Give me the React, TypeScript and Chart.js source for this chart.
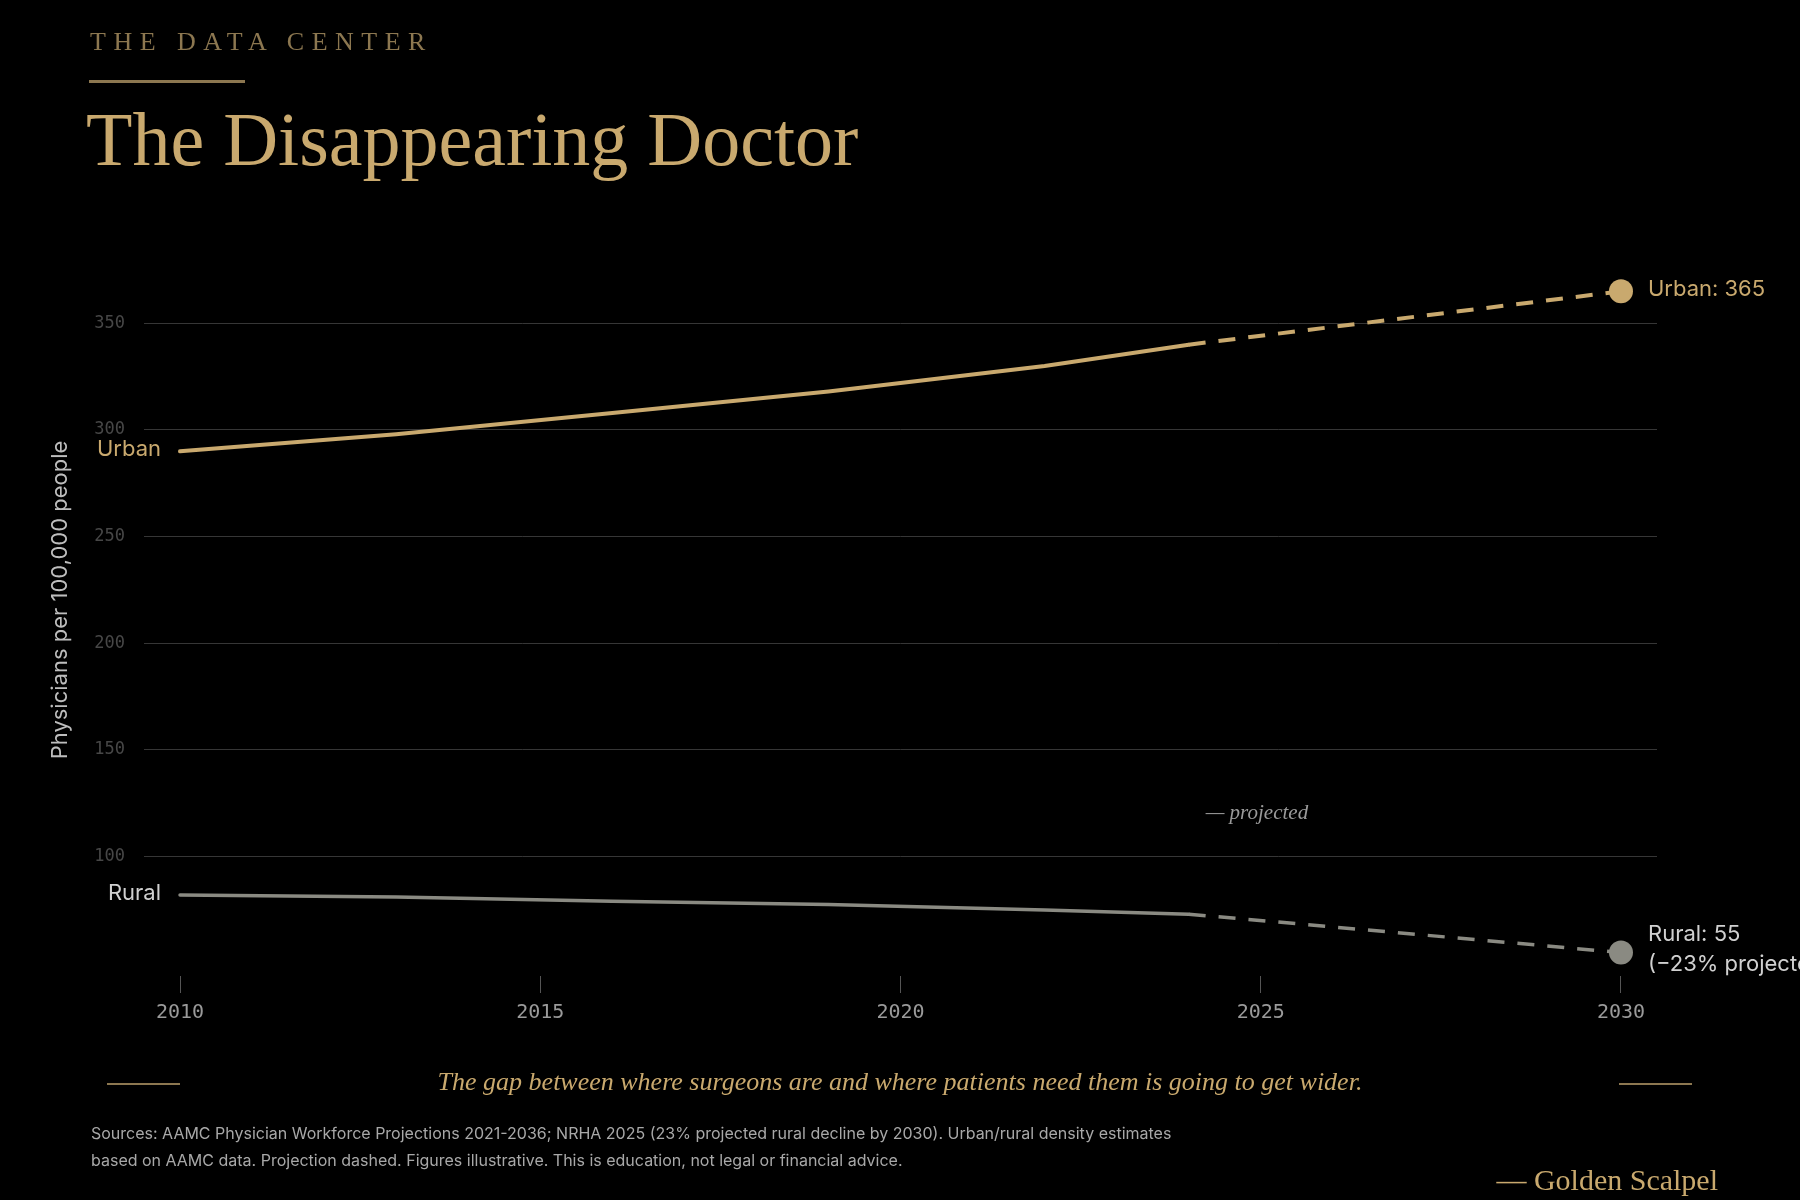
import React, { useEffect, useRef } from "react";
import { Chart, registerables } from "chart.js";

Chart.register(...registerables);

const YEARS = [2010, 2013, 2016, 2019, 2022, 2024, 2030];
const URBAN = [290, 298, 308, 318, 330, 340, 365];
const RURAL = [82, 81, 79, 77.5, 75, 73, 55];
const PROJECTION_START = 2024;
const Y_TICKS = [100, 150, 200, 250, 300, 350];
const X_TICKS = [2010, 2015, 2020, 2025, 2030];

const GOLD = "#c9a96e";
const GOLD_DIM = "#8c7750";
const GRAY = "#8a8a82";
const SANS = "Inter, 'Noto Sans', sans-serif";
const SERIF = "'Liberation Serif', 'DejaVu Serif', serif";
const MONO = "'DejaVu Sans Mono', 'Liberation Mono', monospace";

const labelPlugin = {
  id: "lineLabels",
  afterDatasetsDraw(chart: any) {
    const { ctx, scales } = chart;
    const x = scales.x;
    const y = scales.y;
    const last = YEARS.length - 1;
    ctx.save();
    ctx.textBaseline = "middle";
    ctx.font = `22px ${SANS}`;
    // start labels
    ctx.textAlign = "right";
    ctx.fillStyle = GOLD;
    ctx.fillText("Urban", x.getPixelForValue(YEARS[0]) - 19, y.getPixelForValue(URBAN[0]) - 2);
    ctx.fillStyle = "#d0d0d0";
    ctx.fillText("Rural", x.getPixelForValue(YEARS[0]) - 19, y.getPixelForValue(RURAL[0]) - 2);
    // end labels
    ctx.textAlign = "left";
    const ex = x.getPixelForValue(YEARS[last]) + 27;
    ctx.fillStyle = GOLD;
    ctx.fillText(`Urban: ${URBAN[last]}`, ex, y.getPixelForValue(URBAN[last]) - 2);
    ctx.fillStyle = "#d0d0d0";
    ctx.fillText(`Rural: ${RURAL[last]}`, ex, y.getPixelForValue(RURAL[last]) - 18);
    ctx.fillText("(\u221223% projected)", ex, y.getPixelForValue(RURAL[last]) + 12);
    // projected note
    ctx.font = `italic 21px ${SERIF}`;
    ctx.fillStyle = "#9a9a9a";
    ctx.fillText("\u2014 projected", x.getPixelForValue(PROJECTION_START) + 17, y.getPixelForValue(120));
    // y title
    ctx.save();
    ctx.translate(60, (chart.chartArea.top + chart.chartArea.bottom) / 2 - 23);
    ctx.rotate(-Math.PI / 2);
    ctx.textAlign = "center";
    ctx.font = `22px ${SANS}`;
    ctx.fillStyle = "#bdbdbd";
    ctx.fillText("Physicians per 100,000 people", 0, 0);
    ctx.restore();
    ctx.restore();
  },
};

function makeDataset(label: string, values: number[], color: string, width: number) {
  const last = values.length - 1;
  return {
    label,
    data: YEARS.map((yr, i) => ({ x: yr, y: values[i] })),
    borderColor: color,
    backgroundColor: color,
    borderWidth: width,
    tension: 0,
    fill: false,
    clip: false as any,
    borderCapStyle: "round" as const,
    pointRadius: (c: any) => (c.dataIndex === last ? 12 : 0),
    pointHoverRadius: 0,
    pointBorderWidth: 0,
    pointBackgroundColor: color,
    segment: {
      borderDash: (c: any) => (c.p0.parsed.x >= PROJECTION_START ? [17, 13] : undefined),
      borderCapStyle: (c: any) => (c.p0.parsed.x >= PROJECTION_START ? "butt" : undefined),
    },
  };
}

function PhysicianChart() {
  const ref = useRef<HTMLCanvasElement | null>(null);
  useEffect(() => {
    if (!ref.current) return;
    const chart = new Chart(ref.current, {
      type: "line",
      data: {
        datasets: [
          makeDataset("Urban", URBAN, GOLD, 4),
          makeDataset("Rural", RURAL, GRAY, 3.5),
        ] as any,
      },
      options: {
        responsive: false,
        animation: false,
        events: [],
        layout: { padding: { left: 0, right: 143, top: 270, bottom: 164 } },
        plugins: { legend: { display: false }, tooltip: { enabled: false } },
        scales: {
          x: {
            type: "linear",
            min: 2009.5,
            max: 2030.5,
            afterBuildTicks: (axis: any) => {
              axis.ticks = X_TICKS.map((v) => ({ value: v }));
            },
            afterFit: (scale: any) => {
              scale.height = 60;
            },
            border: { display: false },
            grid: {
              drawOnChartArea: false,
              drawTicks: true,
              tickLength: 17,
              tickColor: "#555",
              tickWidth: 1,
            },
            ticks: {
              color: "#9a9a9a",
              font: { family: MONO, size: 20 },
              padding: 8,
              callback: (v: any) => String(v),
              maxRotation: 0,
              autoSkip: false,
            },
          },
          y: {
            type: "linear",
            min: 44,
            max: 375,
            afterBuildTicks: (axis: any) => {
              axis.ticks = Y_TICKS.map((v) => ({ value: v }));
            },
            afterFit: (scale: any) => {
              scale.width = 144;
            },
            border: { display: false },
            grid: { color: "#363636", lineWidth: 1, drawTicks: false },
            ticks: {
              color: "#474747",
              font: { family: MONO, size: 17 },
              padding: 19,
              callback: (v: any) => String(v),
            },
          },
        },
      },
      plugins: [labelPlugin],
    });
    return () => chart.destroy();
  }, []);
  return (
    <canvas
      ref={ref}
      width={1800}
      height={1200}
      style={{ position: "absolute", left: 0, top: 0, width: 1800, height: 1200 }}
    />
  );
}

export default function App() {
  useEffect(() => {
    document.body.style.margin = "0";
    document.body.style.background = "#000";
  }, []);
  const abs = (s: React.CSSProperties): React.CSSProperties => ({ position: "absolute", margin: 0, whiteSpace: "nowrap", ...s });
  return (
    <div style={{ position: "fixed", left: 0, top: 0, width: 1800, height: 1200, background: "#000", overflow: "hidden" }}>
      <PhysicianChart />
      <div style={abs({ left: 90, top: 27, fontFamily: SERIF, fontSize: 26, letterSpacing: 7.5, color: GOLD_DIM, lineHeight: "30px" })}>
        THE DATA CENTER
      </div>
      <div style={abs({ left: 89, top: 80, width: 156, height: 3, background: GOLD_DIM })} />
      <div style={abs({ left: 86, top: 94, fontFamily: SERIF, fontSize: 76, color: GOLD, lineHeight: "90px" })}>
        The Disappearing Doctor
      </div>
      <div style={abs({ left: 107, top: 1083, width: 73, height: 2, background: GOLD_DIM })} />
      <div style={abs({ left: 1619, top: 1083, width: 73, height: 2, background: GOLD_DIM })} />
      <div style={abs({ left: 0, width: 1800, top: 1066, textAlign: "center", fontFamily: SERIF, fontStyle: "italic", fontSize: 26, color: GOLD, lineHeight: "32px" })}>
        The gap between where surgeons are and where patients need them is going to get wider.
      </div>
      <div style={abs({ left: 91, top: 1120, fontFamily: SANS, fontSize: 16, color: "#a8a8a8", lineHeight: "26.5px" })}>
        Sources: AAMC Physician Workforce Projections 2021-2036; NRHA 2025 (23% projected rural decline by 2030). Urban/rural density estimates
        <br />
        based on AAMC data. Projection dashed. Figures illustrative. This is education, not legal or financial advice.
      </div>
      <div style={abs({ right: 82, top: 1162, fontFamily: SERIF, fontSize: 30, color: GOLD, lineHeight: "36px" })}>
        — Golden Scalpel
      </div>
    </div>
  );
}
